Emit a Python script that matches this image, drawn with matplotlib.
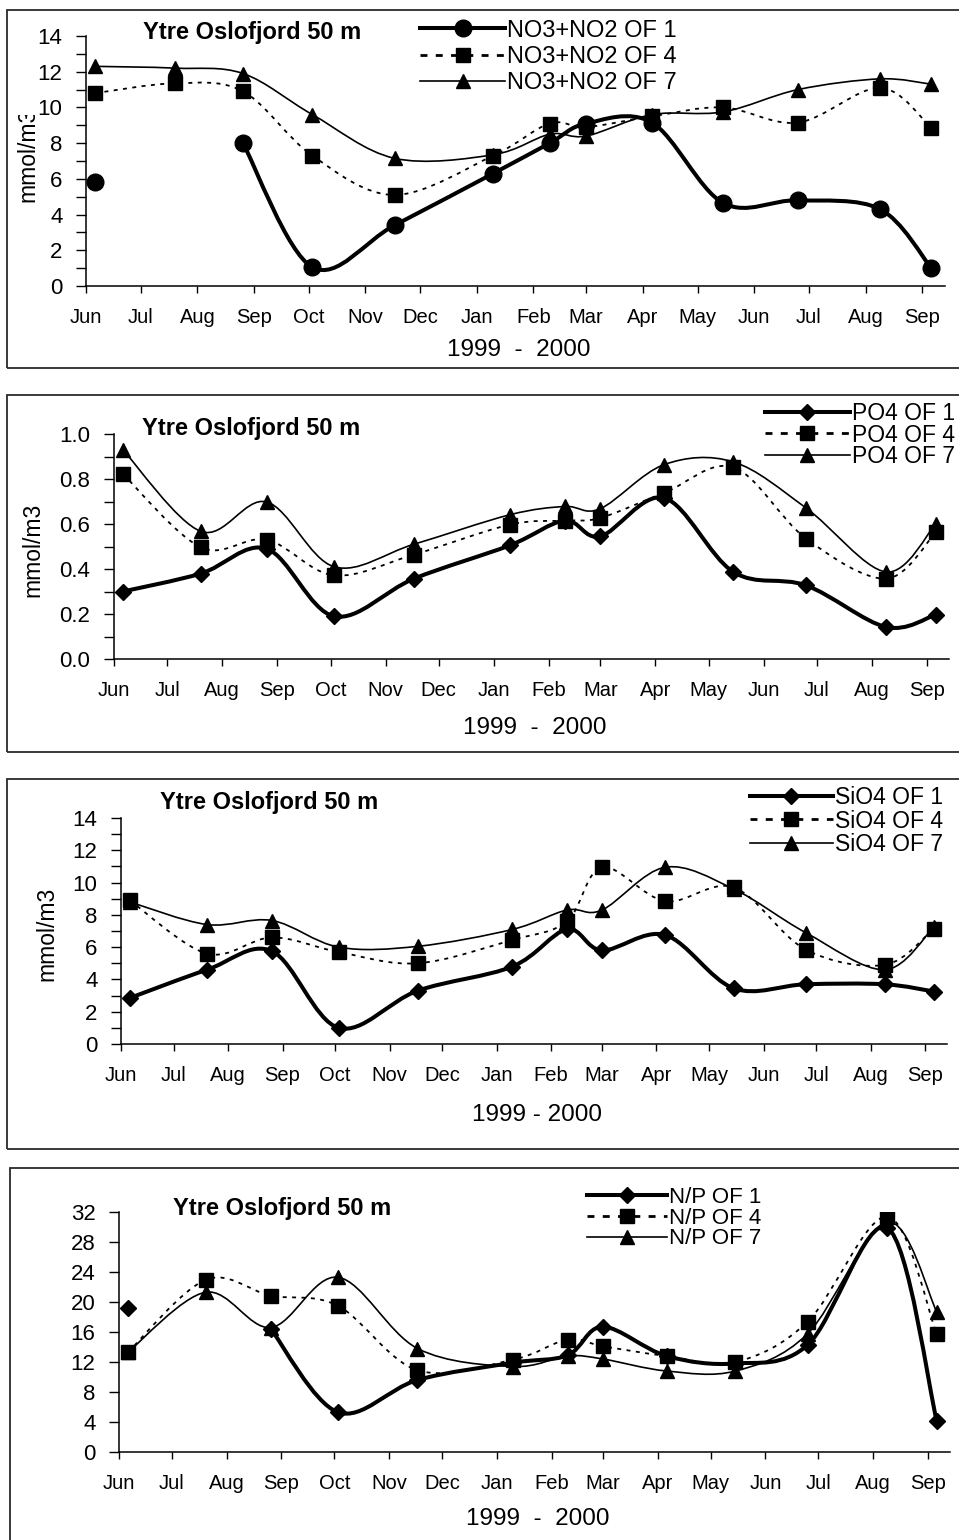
import numpy as np
import pandas as pd
import matplotlib
matplotlib.use("Agg")
import matplotlib.pyplot as plt
import matplotlib.dates as mdates
from matplotlib.path import Path
from matplotlib.patches import PathPatch, Rectangle
from matplotlib.lines import Line2D
from matplotlib.transforms import Bbox

# === DATA (Ytre Oslofjord, 50 m, stations OF 1 / OF 4 / OF 7) ===
sample_dates = ["1999-06-06", "1999-07-20", "1999-08-26", "1999-10-03", "1999-11-17",
                "2000-01-10", "2000-02-10", "2000-03-01", "2000-04-06", "2000-05-15",
                "2000-06-25", "2000-08-09", "2000-09-06"]
nan = np.nan

no3_of1 = [5.8, nan, 8.0, 1.05, 3.4, 6.3, 8.0, 9.1, 9.15, 4.65, 4.8, 4.3, 1.0]
no3_of4 = [10.8, 11.35, 10.9, 7.3, 5.1, 7.3, 9.1, 8.9, 9.5, 10.0, 9.15, 11.1, 8.85]
no3_of7 = [12.3, 12.2, 11.9, 9.6, 7.15, 7.35, 8.5, 8.4, 9.6, 9.75, 11.0, 11.6, 11.3]

po4_of1 = [0.30, 0.38, 0.49, 0.19, 0.357, 0.505, 0.615, 0.545, 0.716, 0.387, 0.327, 0.142, 0.197]
po4_of4 = [0.822, 0.496, 0.53, 0.372, 0.464, 0.597, 0.615, 0.627, 0.738, 0.852, 0.535, 0.357, 0.563]
po4_of7 = [0.93, 0.567, 0.698, 0.41, 0.51, 0.641, 0.678, 0.668, 0.864, 0.876, 0.671, 0.387, 0.60]

sio4_of1 = [2.85, 4.6, 5.75, 1.0, 3.3, 4.8, 7.1, 5.8, 6.75, 3.45, 3.7, 3.7, 3.25]
sio4_of4 = [8.9, 5.6, 6.6, 5.7, 5.0, 6.45, 7.6, 10.95, 8.85, 9.7, 5.85, 4.9, 7.15]
sio4_of7 = [8.8, 7.4, 7.65, 6.0, 6.05, 7.1, 8.3, 8.3, 10.95, 9.6, 6.9, 4.6, 7.25]

np_of1 = [19.2, nan, 16.4, 5.3, 9.6, 11.9, 12.9, 16.7, 12.8, 11.8, 14.3, 29.9, 4.15]
np_of4 = [13.3, 22.95, 20.85, 19.5, 10.9, 12.3, 15.0, 14.1, 12.8, 12.0, 17.4, 31.4, 15.7]
np_of7 = [13.3, 21.3, 16.6, 23.3, 13.8, 11.4, 12.8, 12.4, 10.8, 10.8, 15.8, 30.7, 18.7]

station_names = ["OF 1", "OF 4", "OF 7"]
title_text = "Ytre Oslofjord 50 m"

# === LAYOUT (pixels on a 959 x 1540 canvas) ===
W, H = 959, 1540
panels = [
    dict(series=[no3_of1, no3_of4, no3_of7], name="NO3+NO2", ylim=(0, 14), ystep=2, yminor=1, yfmt="%d",
         axes=(86, 36, 945, 286), frame=(7, 10, 368), ylabel="mmol/m3", ylabel_xy=(28, 155), ylabel_clip=115,
         title_xy=(143, 32), xlabel="1999  -  2000", xlabel_y=350,
         leg_xy=(420, 57), leg_fs=17, leg_sp=0.19, leg_len=3.6,
         markers=["o", "s", "^"], msizes=[12, 9.5, 10.5]),
    dict(series=[po4_of1, po4_of4, po4_of7], name="PO4", ylim=(0, 1.0), ystep=0.2, yminor=0.1, yfmt="%.1f",
         axes=(114, 434, 949, 659), frame=(7, 395, 752), ylabel="mmol/m3", ylabel_xy=(33, 550), ylabel_clip=None,
         title_xy=(142, 428), xlabel="1999  -  2000", xlabel_y=728,
         leg_xy=(765, 435), leg_fs=16.5, leg_sp=-0.08, leg_len=3.7,
         markers=["D", "s", "^"], msizes=[8, 9.5, 10.5]),
    dict(series=[sio4_of1, sio4_of4, sio4_of7], name="SiO4", ylim=(0, 14), ystep=2, yminor=1, yfmt="%d",
         axes=(121, 818, 947, 1044), frame=(7, 779, 1149), ylabel="mmol/m3", ylabel_xy=(47, 934), ylabel_clip=None,
         title_xy=(160, 802), xlabel="1999 - 2000", xlabel_y=1115,
         leg_xy=(750, 821), leg_fs=16.5, leg_sp=0.03, leg_len=3.6,
         markers=["D", "s", "^"], msizes=[8, 9.5, 10.5]),
    dict(series=[np_of1, np_of4, np_of7], name="N/P", ylim=(0, 32), ystep=4, yminor=None, yfmt="%d",
         axes=(119, 1212, 950, 1452), frame=(10, 1168, 1600), ylabel=None, ylabel_xy=None, ylabel_clip=None,
         title_xy=(173, 1208), xlabel="1999  -  2000", xlabel_y=1519,
         leg_xy=(587, 1218), leg_fs=16, leg_sp=-0.01, leg_len=3.6,
         markers=["D", "s", "^"], msizes=[8, 9.5, 10.5]),
]
line_widths = [2.9, 1.3, 1.2]
line_styles = ["-", (0, (2.2, 3.0)), "-"]

x_start = pd.Timestamp("1999-06-01")
x_end = x_start + pd.Timedelta(days=470.5)

plt.rcParams["font.family"] = ["Liberation Sans", "DejaVu Sans"]
fig = plt.figure(figsize=(W / 100, H / 100), dpi=100)
x_num = mdates.date2num(pd.to_datetime(sample_dates))


def fig_box(l, t, r, b):
    return [l / W, 1 - b / H, (r - l) / W, (b - t) / H]


def smooth_path(xs, ys):
    # Excel-style smoothed line: cubic Bezier through the points (Catmull-Rom controls)
    pts = np.column_stack([xs, ys])
    n = len(pts)
    verts = [pts[0]]
    codes = [Path.MOVETO]
    for i in range(n - 1):
        p0 = pts[i - 1] if i > 0 else pts[i]
        p1 = pts[i]
        p2 = pts[i + 1]
        p3 = pts[i + 2] if i + 2 < n else pts[i + 1]
        verts += [p1 + (p2 - p0) / 6.0, p2 - (p3 - p1) / 6.0, p2]
        codes += [Path.CURVE4] * 3
    return Path(np.array(verts), codes)


def draw_series(ax, values, lw, ls, marker, ms):
    y = np.asarray(values, dtype=float)
    ok = ~np.isnan(y)
    # split into runs of valid points; single points get only a marker
    runs, cur = [], []
    for i in range(len(y)):
        if ok[i]:
            cur.append(i)
        elif cur:
            runs.append(cur)
            cur = []
    if cur:
        runs.append(cur)
    for r in runs:
        if len(r) > 1:
            ax.add_patch(PathPatch(smooth_path(x_num[r], y[r]), fill=False, lw=lw,
                                   linestyle=ls, edgecolor="black", capstyle="butt", zorder=2))
    ax.plot(x_num[ok], y[ok], linestyle="none", marker=marker, ms=ms, color="black",
            markeredgecolor="black", zorder=3)


for p in panels:
    # panel frame (runs off the right edge)
    fl, ft, fb = p["frame"]
    fig.patches.append(Rectangle((fl / W, 1 - fb / H), (1000 - fl) / W, (fb - ft) / H,
                                 transform=fig.transFigure, fill=False, lw=1.3,
                                 edgecolor="#2a2a2a", zorder=0))

    ax = fig.add_axes(fig_box(*p["axes"]))
    ax.patch.set_alpha(0)
    for k in range(3):
        draw_series(ax, p["series"][k], line_widths[k], line_styles[k], p["markers"][k], p["msizes"][k])

    ax.set_xlim(mdates.date2num(x_start), mdates.date2num(x_end))
    ax.set_ylim(*p["ylim"])
    ax.xaxis.set_major_locator(mdates.MonthLocator())
    ax.xaxis.set_major_formatter(mdates.DateFormatter("%b"))
    ax.set_yticks(np.arange(p["ylim"][0], p["ylim"][1] + 1e-9, p["ystep"]))
    ax.yaxis.set_major_formatter(matplotlib.ticker.FormatStrFormatter(p["yfmt"]))
    if p["yminor"]:
        ax.yaxis.set_minor_locator(matplotlib.ticker.MultipleLocator(p["yminor"]))
    ax.tick_params(axis="x", direction="out", length=5, width=1, pad=11, labelsize=14.5)
    ax.tick_params(axis="y", which="both", direction="out", length=7, width=1, pad=10, labelsize=16)
    for s in ["top", "right"]:
        ax.spines[s].set_visible(False)
    for s in ["left", "bottom"]:
        ax.spines[s].set_linewidth(1.1)

    fig.text(p["title_xy"][0] / W, 1 - p["title_xy"][1] / H, title_text, ha="left", va="center",
             fontsize=17, fontweight="bold")
    cx = (p["axes"][0] + p["axes"][2]) / 2 + 3
    fig.text(cx / W, 1 - p["xlabel_y"] / H, p["xlabel"], ha="center", va="center", fontsize=17.5)
    if p["ylabel"]:
        t = fig.text(p["ylabel_xy"][0] / W, 1 - p["ylabel_xy"][1] / H, p["ylabel"], rotation=90,
                     ha="center", va="center", fontsize=16.5)
        if p["ylabel_clip"]:
            clip = Bbox.from_extents(0, 0, W, H - p["ylabel_clip"])
            t.set_clip_box(clip)
            t.set_clip_on(True)

    handles = []
    for k in range(3):
        handles.append(Line2D([], [], color="black", lw=line_widths[k] if k != 1 else 2.0,
                              linestyle=line_styles[k] if k != 1 else (0, (2.5, 3.0)),
                              marker=p["markers"][k], ms=p["msizes"][k]))
    labels = [f"{p['name']} {s}" for s in station_names]
    ax.legend(handles, labels, loc="center left",
              bbox_to_anchor=(p["leg_xy"][0] / W, 1 - p["leg_xy"][1] / H), bbox_transform=fig.transFigure,
              frameon=False, fontsize=p["leg_fs"], handlelength=p["leg_len"], handletextpad=0.1,
              labelspacing=p["leg_sp"], borderpad=0, borderaxespad=0, numpoints=1)

fig.savefig("out.png", dpi=100)
